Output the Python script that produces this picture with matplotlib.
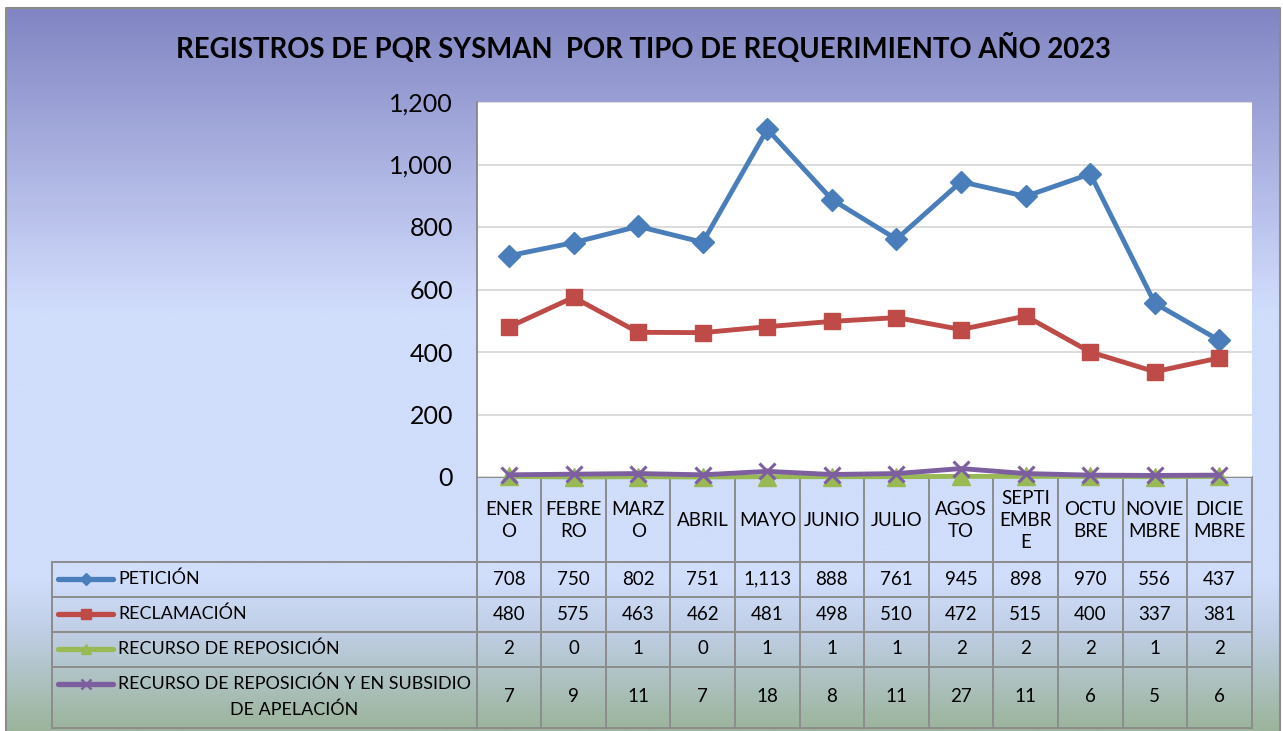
import matplotlib
matplotlib.use("Agg")
import matplotlib.pyplot as plt
import numpy as np
from matplotlib.colors import LinearSegmentedColormap
from matplotlib.ticker import FuncFormatter

plt.rcParams['font.family'] = ['Lato', 'DejaVu Sans']

# ---------------- data ----------------
title = "REGISTROS DE PQR SYSMAN  POR TIPO DE REQUERIMIENTO AÑO 2023"
months = ["ENER\nO", "FEBRE\nRO", "MARZ\nO", "ABRIL", "MAYO", "JUNIO", "JULIO",
          "AGOS\nTO", "SEPTI\nEMBR\nE", "OCTU\nBRE", "NOVIE\nMBRE", "DICIE\nMBRE"]
series_names = ["PETICIÓN", "RECLAMACIÓN", "RECURSO DE REPOSICIÓN",
                "RECURSO DE REPOSICIÓN Y EN SUBSIDIO\nDE APELACIÓN"]
peticion = [708, 750, 802, 751, 1113, 888, 761, 945, 898, 970, 556, 437]
reclamacion = [480, 575, 463, 462, 481, 498, 510, 472, 515, 400, 337, 381]
recurso = [2, 0, 1, 0, 1, 1, 1, 2, 2, 2, 1, 2]
recurso_apel = [7, 9, 11, 7, 18, 8, 11, 27, 11, 6, 5, 6]
yticks = [0, 200, 400, 600, 800, 1000, 1200]

series = [peticion, reclamacion, recurso, recurso_apel]
colors = ["#4a7ebb", "#be4b48", "#98b954", "#7d5fa0"]
markers = ["D", "s", "^", "x"]
msizes = [11, 12, 13, 12]

W, H = 1283, 731
fig = plt.figure(figsize=(W / 100, H / 100), dpi=100)

# ---------- background (pixel coordinates) ----------
bg = fig.add_axes([0, 0, 1, 1])
bg.set_xlim(0, W)
bg.set_ylim(H, 0)
bg.axis("off")
cx0, cy0, cx1, cy1 = 6, 8, 1280, 740
cmap = LinearSegmentedColormap.from_list("bg", [
    (0.00, (129/255, 133/255, 195/255)),
    (0.38, (204/255, 214/255, 248/255)),
    (0.42, (208/255, 221/255, 251/255)),
    (0.79, (208/255, 221/255, 251/255)),
    (0.86, (192/255, 207/255, 230/255)),
    (1.00, (155/255, 180/255, 155/255)),
])
grad = np.linspace(0, 1, 512).reshape(-1, 1)
bg.imshow(grad, cmap=cmap, aspect="auto", extent=(cx0, cx1, cy0 + 724, cy0), zorder=0)
bg.plot([cx0, cx0, cx1, cx1], [cy1, cy0, cy0, cy1], color="#8c8c8c", lw=1.5, zorder=1)

bg.text(643, 48, title, ha="center", va="center", fontsize=19.8, fontweight="bold",
        color="black")

# ---------- data table ----------
px_l, px_r = 476.7, 1251.7
ncol = len(months)
colw = (px_r - px_l) / ncol
col_edges = [px_l + i * colw for i in range(ncol + 1)]
row_edges = [477, 562, 596.5, 631.5, 666.5, 727.5]
lc = "#8c8c8c"
tlw = 1.4
# horizontal lines
for i, y in enumerate(row_edges):
    if i == 0:
        bg.plot([px_l, px_r], [y, y], color=lc, lw=tlw, zorder=2)
    else:
        bg.plot([52.3, px_r], [y, y], color=lc, lw=tlw, zorder=2)
# vertical lines
for x in col_edges:
    bg.plot([x, x], [row_edges[0], row_edges[-1]], color=lc, lw=tlw, zorder=2)
bg.plot([52.3, 52.3], [row_edges[1], row_edges[-1]], color=lc, lw=tlw, zorder=2)

fs = 13.5
fs_lab = 12.9
for j, m in enumerate(months):
    xc = (col_edges[j] + col_edges[j + 1]) / 2
    bg.text(xc, (row_edges[0] + row_edges[1]) / 2 + 1, m, ha="center", va="center",
            fontsize=fs, linespacing=1.33, color="black", zorder=3)

for i, (vals, name, c, mk) in enumerate(zip(series, series_names, colors, markers)):
    ytop, ybot = row_edges[i + 1], row_edges[i + 2]
    yc = (ytop + ybot) / 2
    lines = name.split("\n")
    yk = yc if len(lines) == 1 else ytop + 17
    # legend key
    bg.plot([58, 113], [yk, yk], color=c, lw=3.8, solid_capstyle="round", zorder=3)
    if mk == "x":
        bg.plot([85.5], [yk], marker=mk, ms=7, mew=1.8, color=c, zorder=4)
    else:
        bg.plot([85.5], [yk], marker=mk, ms=7 if mk != "D" else 6.5, color=c, mec=c,
                zorder=4)
    bg.text(118, yk, lines[0], ha="left", va="center", fontsize=fs_lab, color="black",
            zorder=3)
    if len(lines) > 1:
        bg.text(294.5, yk + 26, lines[1], ha="center", va="center", fontsize=fs_lab,
                color="black", zorder=3)
    for j, v in enumerate(vals):
        xc = (col_edges[j] + col_edges[j + 1]) / 2
        bg.text(xc, yc, f"{v:,}", ha="center", va="center", fontsize=fs,
                color="black", zorder=3)

# ---------- plot area ----------
ax = fig.add_axes([px_l / W, 1 - 477 / H, (px_r - px_l) / W, (477 - 102) / H])
ax.set_facecolor("white")
ax.set_xlim(-0.5, ncol - 0.5)
ax.set_ylim(0, 1200)
ax.set_yticks(yticks)
ax.yaxis.set_major_formatter(FuncFormatter(lambda v, p: f"{int(v):,}"))
ax.tick_params(axis="y", length=0, pad=17, labelsize=18, labelcolor="black")
ax.set_xticks([])
ax.grid(axis="y", color="#d9d9d9", lw=1.3)
ax.set_axisbelow(True)
for s in ["top", "right", "bottom"]:
    ax.spines[s].set_visible(False)
ax.spines["left"].set_color("#868686")
ax.spines["left"].set_linewidth(1.3)

x = np.arange(ncol)
for vals, c, mk, ms in zip(series, colors, markers, msizes):
    if mk == "x":
        ax.plot(x, vals, color=c, lw=3.5, marker=mk, ms=ms, mew=2.2, clip_on=False,
                zorder=5)
    else:
        ax.plot(x, vals, color=c, lw=3.5, marker=mk, ms=ms, mec=c, clip_on=False,
                zorder=4)

fig.savefig("out.png", dpi=100)
